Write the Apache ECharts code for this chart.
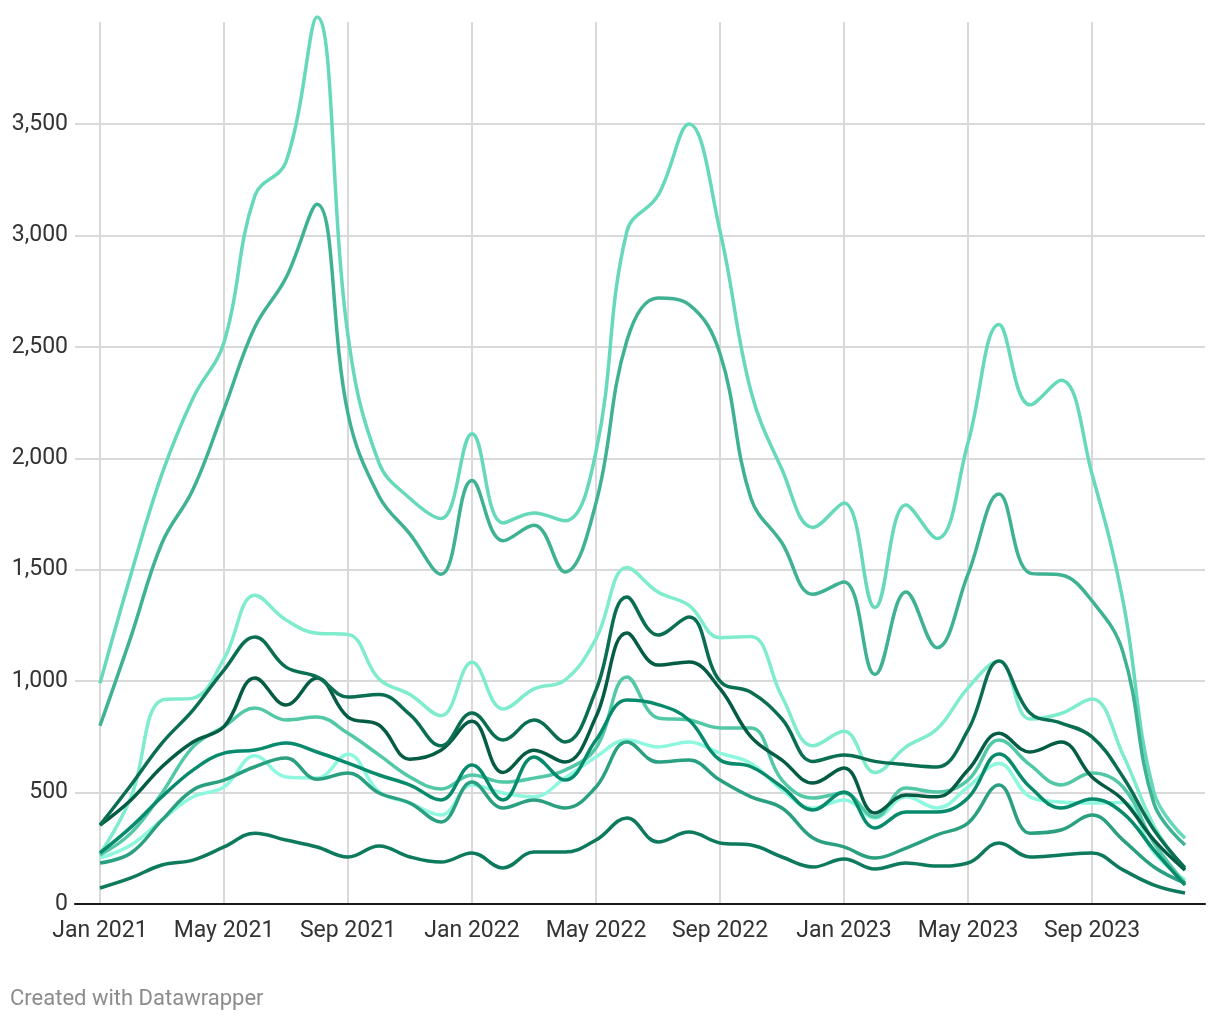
<!DOCTYPE html>
<html><head><meta charset="utf-8">
<script src="https://cdn.jsdelivr.net/npm/echarts@6/dist/echarts.min.js"></script>
<style>html,body{margin:0;padding:0;background:#fff}#c{width:1220px;height:1020px}</style>
</head><body><div id="c"></div>
<script>
const months = ['Jan 2021','Feb 2021','Mar 2021','Apr 2021','May 2021','Jun 2021','Jul 2021','Aug 2021','Sep 2021','Oct 2021','Nov 2021','Dec 2021',
  'Jan 2022','Feb 2022','Mar 2022','Apr 2022','May 2022','Jun 2022','Jul 2022','Aug 2022','Sep 2022','Oct 2022','Nov 2022','Dec 2022',
  'Jan 2023','Feb 2023','Mar 2023','Apr 2023','May 2023','Jun 2023','Jul 2023','Aug 2023','Sep 2023','Oct 2023','Nov 2023','Dec 2023'];
const xTickIdx = [0,4,8,12,16,20,24,28,32];
const yTicks = [0,500,1000,1500,2000,2500,3000,3500];

const sA = [990,1480,1930,2270,2520,3180,3330,3980,2550,1980,1820,1730,2110,1710,1755,1720,2030,3020,3180,3500,3020,2300,1950,1690,1800,1330,1790,1640,2070,2600,2240,2350,1930,1360,500,295];
const sB = [800,1200,1620,1860,2220,2590,2810,3140,2200,1830,1660,1480,1900,1630,1700,1490,1800,2530,2720,2690,2470,1820,1620,1390,1445,1030,1400,1150,1480,1840,1485,1476,1360,1130,450,265];
const sC = [225,480,915,924,1100,1385,1275,1215,1210,1010,940,845,1085,875,965,1005,1190,1510,1400,1340,1195,1200,930,710,775,590,705,785,970,1090,830,855,920,670,350,150];
const sD = [354,534,722,870,1050,1198,1063,1019,929,940,850,710,857,736,826,727,960,1378,1207,1288,1000,950,830,640,669,640,625,615,780,1090,857,812,750,570,332,162];
const sE = [354,467,616,727,796,1014,893,1014,839,803,650,690,820,590,690,637,840,1216,1072,1086,966,750,646,543,610,408,489,481,601,766,682,727,570,467,287,153];
const sF = [220,318,498,705,796,879,826,839,766,669,570,516,579,547,565,601,700,1019,835,826,790,790,556,476,498,390,520,503,556,736,624,534,588,525,274,94];
const sG = [229,345,481,601,677,691,722,682,632,579,534,467,624,467,660,556,736,915,895,826,646,616,525,422,503,341,413,413,476,673,525,431,471,408,242,85];
const sH = [206,265,377,481,525,665,570,565,672,503,453,399,534,498,481,565,660,736,705,727,677,632,512,431,467,386,481,431,525,630,481,458,453,455,230,108];
const sI = [184,229,377,512,556,616,655,560,588,498,453,368,547,431,467,431,525,727,637,646,556,481,431,296,256,206,251,310,363,534,318,332,399,287,166,94];
const sJ = [72,117,175,197,256,318,287,256,211,260,211,188,229,162,233,233,287,386,278,323,274,265,211,166,202,157,184,170,184,274,211,220,229,153,85,49];

const seriesList = [
  {v: sA, c: '#65d9ba'},
  {v: sB, c: '#3eb292'},
  {v: sC, c: '#7eeccd'},
  {v: sH, c: '#8df8dd'},
  {v: sF, c: '#52c8a6'},
  {v: sI, c: '#2aa080'},
  {v: sJ, c: '#0e7a5d'},
  {v: sG, c: '#088b6c'},
  {v: sE, c: '#055c44'},
  {v: sD, c: '#0a6e52'}
];

const chart = echarts.init(document.getElementById('c'), null, {renderer: 'canvas'});
const font = 'Roboto, sans-serif';
chart.setOption({
  animation: false,
  backgroundColor: '#fff',
  grid: {left: 75, right: 15, top: 22, bottom: 116, containLabel: false},
  xAxis: {
    type: 'value', min: -0.806, max: 35.645,
    axisLine: {show: true, onZero: false, lineStyle: {color: '#1a1a1a', width: 2}},
    axisTick: {show: false, customValues: xTickIdx},
    axisLabel: {customValues: xTickIdx, formatter: v => months[Math.round(v)], fontSize: 23, color: '#333', fontFamily: font, margin: 16},
    splitLine: {show: true, lineStyle: {color: '#d9d9d9', width: 2}}
  },
  yAxis: {
    type: 'value', min: 0, max: 3958,
    axisLine: {show: false},
    axisTick: {show: false, customValues: yTicks},
    axisLabel: {customValues: yTicks, formatter: v => v.toLocaleString('en-US'), fontSize: 23, color: '#333', fontFamily: font, margin: 7},
    splitLine: {show: true, lineStyle: {color: '#d9d9d9', width: 2}}
  },
  graphic: [{type: 'text', left: 10, top: 988, style: {text: 'Created with Datawrapper', fontSize: 22, fill: '#8c8c8c', fontFamily: font}}],
  series: seriesList.map(s => ({
    type: 'line', data: s.v.map((y, i) => [i, y]), showSymbol: false, smooth: 0.4, clip: false, silent: true,
    lineStyle: {color: s.c, width: 3.5}, itemStyle: {color: s.c}
  }))
});
</script></body></html>
